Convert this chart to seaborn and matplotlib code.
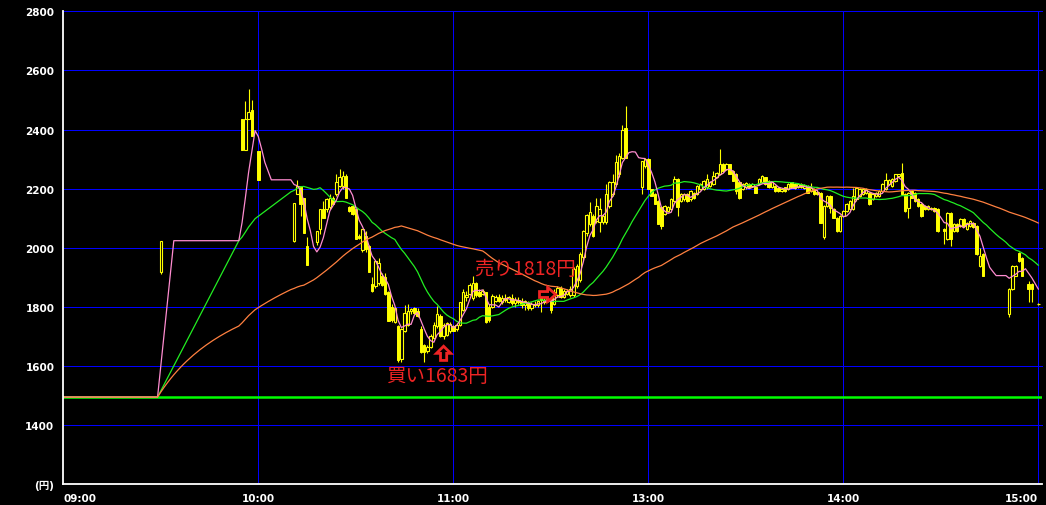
import numpy as np
import pandas as pd
import matplotlib
matplotlib.use('Agg')
import matplotlib.pyplot as plt
import seaborn as sns
from matplotlib.patches import FancyArrow


# minutes counted from 09:00, the lunch break (11:30-12:30) is cut out so 13:00 = 180
bar_minute = ([30, 55, 56, 57, 58, 60, 71, 72, 73, 74, 75]
              + list(range(78, 174)) + list(range(178, 270)) + list(range(271, 284))
              + [291, 292, 293, 294, 295, 297, 298, 300])

bar_open = [
    1918, 2434, 2331, 2436, 2467, 2329, 2022, 2182, 2210, 2167, 2005,
    # 78-173
    2019, 2064, 2131, 2131, 2138, 2170, 2182, 2210, 2210, 2243,
    2137, 2140, 2131, 2040, 1991, 2040, 2005, 1878, 1872, 1880,
    1905, 1900, 1849, 1800, 1750, 1737, 1625, 1720, 1740, 1785,
    1795, 1785, 1726, 1670, 1650, 1664, 1695, 1735, 1770, 1700,
    1705, 1720, 1737, 1725, 1740, 1790, 1835, 1845, 1830, 1880,
    1850, 1845, 1850, 1800, 1800, 1820, 1835, 1815, 1830, 1818,
    1830, 1812, 1825, 1818, 1805, 1815, 1795, 1810, 1805, 1840,
    1815, 1820, 1835, 1810, 1840, 1865, 1835, 1845, 1840, 1840,
    1872, 1890, 1969, 2050, 2081, 2109, 2092, 2086, 2086, 2086,
    2142, 2182, 2215, 2250, 2305, 2405,
    # 178-269
    2204, 2277, 2301, 2198, 2182, 2159, 2137, 2114, 2126, 2131,
    2159, 2232, 2159, 2165, 2182, 2165, 2187, 2182, 2198, 2198,
    2204, 2210, 2215, 2238, 2249, 2282, 2266, 2282, 2260, 2249,
    2221, 2198, 2204, 2215, 2210, 2204, 2215, 2224, 2238, 2226,
    2204, 2210, 2201, 2193, 2204, 2198, 2221, 2215, 2204, 2215,
    2202, 2210, 2192, 2198, 2190, 2187, 2035, 2142, 2175, 2130,
    2102, 2057, 2108, 2125, 2130, 2130, 2164, 2175, 2181, 2186,
    2186, 2164, 2175, 2175, 2192, 2198, 2215, 2209, 2226, 2243,
    2254, 2181, 2136, 2192, 2186, 2164, 2147, 2142, 2130, 2136,
    2136, 2130,
    # 271-283
    2063, 2029, 2119, 2057, 2080, 2074, 2097, 2063, 2074, 2085, 2074, 1939, 1979,
    # last minutes
    1776, 1861, 1906, 1984, 1967, 1877, 1877, 1810,
]

bar_high = [
    2024, 2436, 2496, 2538, 2501, 2329, 2150, 2229, 2210, 2167, 2036,
    2058, 2131, 2159, 2170, 2182, 2175, 2251, 2268, 2260, 2250,
    2140, 2145, 2131, 2045, 2062, 2058, 2010, 1900, 1960, 1965,
    1915, 1915, 1855, 1810, 1800, 1740, 1730, 1808, 1810, 1795,
    1800, 1795, 1735, 1675, 1670, 1710, 1750, 1804, 1775, 1745,
    1750, 1748, 1740, 1745, 1815, 1860, 1855, 1880, 1905, 1885,
    1860, 1860, 1852, 1810, 1845, 1840, 1845, 1840, 1845, 1838,
    1845, 1832, 1835, 1830, 1825, 1820, 1815, 1820, 1825, 1855,
    1830, 1840, 1840, 1860, 1870, 1870, 1860, 1860, 1870, 1935,
    1945, 1985, 2060, 2115, 2154, 2115, 2170, 2170, 2115, 2215,
    2225, 2250, 2315, 2320, 2417, 2481,
    2294, 2301, 2305, 2200, 2185, 2162, 2140, 2145, 2140, 2170,
    2243, 2235, 2185, 2185, 2186, 2196, 2190, 2213, 2218, 2230,
    2249, 2225, 2260, 2258, 2335, 2286, 2286, 2285, 2263, 2252,
    2224, 2218, 2221, 2218, 2218, 2207, 2235, 2246, 2241, 2229,
    2224, 2213, 2204, 2201, 2207, 2218, 2224, 2218, 2218, 2218,
    2216, 2213, 2218, 2203, 2195, 2190, 2145, 2180, 2178, 2133,
    2105, 2112, 2128, 2150, 2161, 2203, 2206, 2201, 2201, 2201,
    2189, 2184, 2189, 2195, 2218, 2252, 2234, 2237, 2251, 2251,
    2288, 2184, 2190, 2195, 2189, 2167, 2150, 2145, 2145, 2139,
    2139, 2133,
    2066, 2122, 2122, 2083, 2083, 2100, 2100, 2088, 2094, 2088, 2077, 2001, 1982,
    1864, 1942, 1942, 1987, 1970, 1889, 1880, 1812,
]

bar_low = [
    1912, 2331, 2331, 2436, 2378, 2230, 2019, 2182, 2106, 2050, 1941,
    2010, 2048, 2100, 2120, 2130, 2148, 2175, 2205, 2200, 2167,
    2120, 2110, 2030, 2030, 1985, 1985, 1918, 1850, 1865, 1875,
    1870, 1840, 1754, 1750, 1745, 1615, 1615, 1715, 1735, 1775,
    1775, 1765, 1645, 1613, 1645, 1660, 1690, 1730, 1698, 1690,
    1700, 1712, 1718, 1720, 1735, 1785, 1820, 1840, 1825, 1835,
    1835, 1840, 1745, 1748, 1795, 1815, 1815, 1810, 1815, 1812,
    1805, 1800, 1810, 1795, 1790, 1790, 1790, 1800, 1800, 1782,
    1810, 1815, 1780, 1805, 1835, 1830, 1830, 1840, 1835, 1835,
    1865, 1885, 1960, 2040, 2075, 2036, 2085, 2053, 2080, 2080,
    2135, 2175, 2210, 2240, 2300, 2305,
    2182, 2270, 2198, 2176, 2148, 2081, 2064, 2110, 2120, 2128,
    2155, 2109, 2155, 2160, 2155, 2160, 2165, 2178, 2195, 2195,
    2200, 2205, 2212, 2235, 2245, 2258, 2262, 2249, 2226, 2182,
    2165, 2195, 2200, 2201, 2207, 2184, 2212, 2220, 2212, 2201,
    2201, 2190, 2190, 2190, 2190, 2195, 2201, 2199, 2201, 2201,
    2199, 2184, 2189, 2178, 2178, 2085, 2029, 2138, 2119, 2100,
    2052, 2052, 2105, 2120, 2127, 2127, 2160, 2172, 2178, 2183,
    2144, 2161, 2172, 2172, 2189, 2195, 2212, 2206, 2223, 2240,
    2178, 2122, 2102, 2167, 2155, 2139, 2105, 2127, 2127, 2127,
    2122, 2054,
    2012, 2026, 2007, 2054, 2054, 2071, 2071, 2060, 2071, 2066, 1976, 1936, 1903,
    1765, 1858, 1903, 1953, 1903, 1816, 1816, 1808,
]

bar_close = [
    2024, 2331, 2436, 2459, 2378, 2230, 2150, 2210, 2148, 2050, 1941,
    2058, 2131, 2100, 2165, 2170, 2148, 2221, 2238, 2243, 2167,
    2125, 2115, 2030, 2033, 2062, 1995, 1918, 1855, 1956, 1950,
    1875, 1845, 1754, 1755, 1795, 1622, 1726, 1780, 1785, 1792,
    1778, 1768, 1647, 1647, 1665, 1703, 1740, 1775, 1700, 1740,
    1745, 1742, 1720, 1740, 1815, 1850, 1840, 1875, 1880, 1840,
    1838, 1855, 1750, 1755, 1838, 1835, 1820, 1830, 1822, 1832,
    1812, 1825, 1818, 1805, 1820, 1795, 1810, 1805, 1820, 1825,
    1825, 1835, 1790, 1850, 1865, 1835, 1855, 1855, 1860, 1928,
    1939, 1980, 2058, 2110, 2120, 2040, 2142, 2131, 2109, 2182,
    2221, 2221, 2290, 2310, 2400, 2305,
    2294, 2301, 2198, 2176, 2148, 2081, 2075, 2142, 2137, 2165,
    2232, 2137, 2182, 2182, 2159, 2193, 2170, 2210, 2215, 2226,
    2232, 2221, 2243, 2254, 2282, 2260, 2282, 2249, 2226, 2193,
    2170, 2215, 2218, 2204, 2215, 2187, 2232, 2243, 2215, 2204,
    2221, 2193, 2193, 2198, 2193, 2215, 2204, 2202, 2215, 2204,
    2213, 2187, 2203, 2181, 2181, 2085, 2142, 2175, 2136, 2102,
    2057, 2108, 2125, 2147, 2158, 2175, 2203, 2198, 2198, 2198,
    2147, 2181, 2186, 2192, 2215, 2231, 2231, 2234, 2248, 2248,
    2181, 2125, 2187, 2170, 2158, 2142, 2108, 2130, 2142, 2130,
    2125, 2057,
    2057, 2119, 2029, 2080, 2057, 2097, 2074, 2085, 2091, 2069, 1979, 1973, 1906,
    1861, 1939, 1939, 1956, 1906, 1861, 1861, 1810,
]

prev_close = 1495
buy_minute, buy_price = 117, 1683
sell_minute, sell_price = 152, 1818

tick_minutes = [0, 60, 120, 180, 240, 300]
tick_labels = ['09:00', '10:00', '11:00', '13:00', '14:00', '15:00']
price_ticks = [1200, 1400, 1600, 1800, 2000, 2200, 2400, 2600, 2800]
price_labels = ['(円)', '1400', '1600', '1800', '2000', '2200', '2400', '2600', '2800']

YELLOW = '#ffff00'
RED = '#ee2424'
BLUE = '#0000ff'

sns.set_style('dark', rc={'axes.facecolor': 'black', 'figure.facecolor': 'black'})
plt.rcParams['font.family'] = ['DejaVu Sans', 'Noto Sans CJK JP']

df = pd.DataFrame({'minute': bar_minute, 'open': bar_open, 'high': bar_high,
                   'low': bar_low, 'close': bar_close})
df['up'] = df['close'] >= df['open']

# moving averages on the minute close, carried forward through quiet minutes
close_by_min = (pd.Series(bar_close, index=bar_minute)
                .reindex(range(0, 301)).ffill().fillna(prev_close))
ma = pd.DataFrame({'minute': close_by_min.index,
                   'ma5': close_by_min.rolling(5, min_periods=1).mean().values,
                   'ma25': close_by_min.rolling(25, min_periods=1).mean().values,
                   'ma75': close_by_min.rolling(75, min_periods=1).mean().values})

fig = plt.figure(figsize=(10.46, 5.06), dpi=100)
ax = fig.add_axes([63.3 / 1046, 20.7 / 506, 978.7 / 1046, 473 / 506])
ax.set_facecolor('black')
ax.grid(False)

# 1px blue grid
for p in price_ticks[1:]:
    ax.axhline(p, color=BLUE, lw=0.7, zorder=1, clip_on=False, antialiased=False)
for m in tick_minutes[1:]:
    ax.axvline(m, color=BLUE, lw=0.7, zorder=1, antialiased=False)

# candles: wicks, then filled (down) and hollow (up) bodies
ax.vlines(df['minute'], df['low'], df['high'], color=YELLOW, lw=0.8, zorder=3)
body_low = df[['open', 'close']].min(axis=1)
body_h = (df['close'] - df['open']).abs()
down = ~df['up']
ax.bar(df['minute'][down], body_h[down], bottom=body_low[down], width=0.78,
       color=YELLOW, edgecolor=YELLOW, lw=0.7, zorder=4)
ax.bar(df['minute'][df['up']], body_h[df['up']], bottom=body_low[df['up']], width=0.78,
       color='black', edgecolor=YELLOW, lw=0.8, zorder=4)

ax.axhline(prev_close, color='#00ff00', lw=1.8, zorder=2)
sns.lineplot(data=ma, x='minute', y='ma25', color='#22ee22', lw=0.9, ax=ax, zorder=5)
sns.lineplot(data=ma, x='minute', y='ma5', color='#ff8cd0', lw=0.9, ax=ax, zorder=6)
sns.lineplot(data=ma, x='minute', y='ma75', color='#ff8040', lw=0.9, ax=ax, zorder=7)

# trade markers
ax.add_patch(FancyArrow(buy_minute, buy_price - 64, 0, 48, width=1.9, head_width=4.4,
                        head_length=24, length_includes_head=True,
                        fc='black', ec=RED, lw=2.0, zorder=8))
ax.add_patch(FancyArrow(sell_minute - 5.5, sell_price + 24, 5, 0, width=20, head_width=48,
                        head_length=2.5, length_includes_head=True,
                        fc='black', ec=RED, lw=2.0, zorder=8))
ax.text(sell_minute - 10, sell_price + 112, f'売り{sell_price}円', color=RED, fontsize=14,
        family=['Noto Sans CJK JP'], ha='center', va='center', zorder=9)
ax.text(buy_minute - 2, buy_price - 116, f'買い{buy_price}円', color=RED, fontsize=14,
        family=['Noto Sans CJK JP'], ha='center', va='center', zorder=9)

ax.set_xlim(0, 301.1)
ax.set_ylim(1200, 2800)
ax.set_xticks(tick_minutes)
ax.set_xticklabels(tick_labels)
ax.set_yticks(price_ticks)
ax.set_yticklabels(price_labels)
ax.set_xlabel('')
ax.set_ylabel('')

for side in ['top', 'right']:
    ax.spines[side].set_visible(False)
for side in ['left', 'bottom']:
    ax.spines[side].set_visible(True)
    ax.spines[side].set_color('white')
    ax.spines[side].set_linewidth(1.3)
    ax.spines[side].set_zorder(10)

ax.tick_params(axis='both', colors='white', direction='out', width=1.0, length=3.6,
               labelsize=7.5, pad=2.8)
for lab in ax.get_xticklabels() + ax.get_yticklabels():
    lab.set_fontweight('bold')
    lab.set_color('white')
xl = ax.get_xticklabels()
xl[0].set_horizontalalignment('left')
xl[-1].set_horizontalalignment('right')

fig.savefig('out.png', dpi=100, facecolor='black')
